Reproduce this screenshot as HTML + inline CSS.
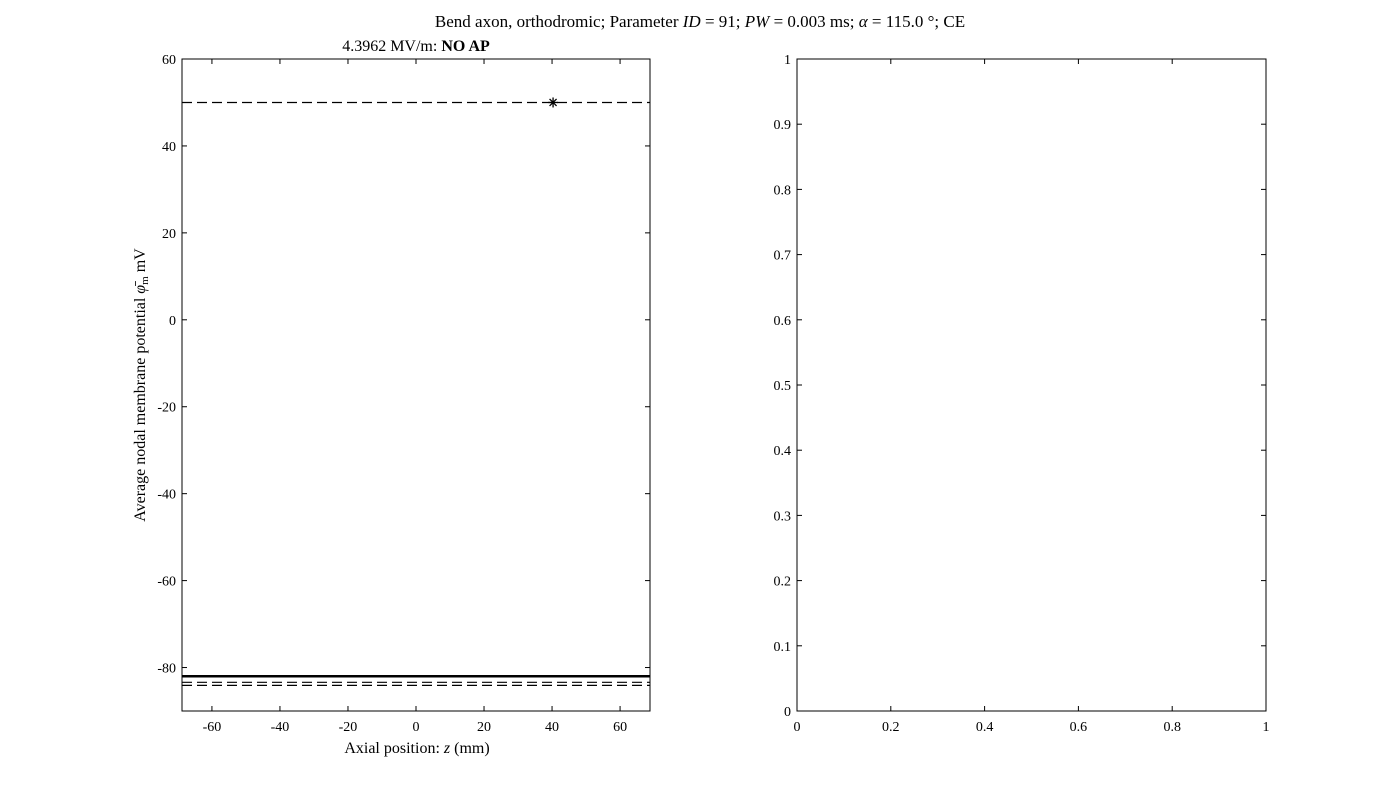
<!DOCTYPE html>
<html><head><meta charset="utf-8"><style>
body{margin:0;background:#fff;}
svg{display:block;font-family:"Liberation Serif",serif;}
</style></head><body>
<svg id="fig" width="1400" height="800">
<text x="700" y="27" font-size="17" text-anchor="middle">Bend axon, orthodromic; Parameter <tspan font-style="italic">ID</tspan> = 91; <tspan font-style="italic">PW</tspan> = 0.003 ms; <tspan font-style="italic">α</tspan> = 115.0 °; CE</text>
<text x="416" y="51" font-size="16" text-anchor="middle">4.3962 MV/m: <tspan font-weight="bold">NO AP</tspan></text>
<g id="left"></g>
<g id="right"></g>
<text x="417" y="753" font-size="16" text-anchor="middle">Axial position: <tspan font-style="italic">z</tspan> (mm)</text>
<text transform="translate(145,385) rotate(-90)" font-size="16" text-anchor="middle">Average nodal membrane potential <tspan font-style="italic">φ̄</tspan><tspan font-size="11" dy="3">m</tspan><tspan dy="-3"> mV</tspan></text>
</svg>
<script>
const xTicks=[-60,-40,-20,0,20,40,60];
const yTicks=[-80,-60,-40,-20,0,20,40,60];
const hLineValues=[50,-83.4,-84.1];
const solidValue=[-82];
const markerX=[40.3];
const markerY=[50];
const rTicks=[0,0.1,0.2,0.3,0.4,0.5,0.6,0.7,0.8,0.9,1];
const rxTicks=[0,0.2,0.4,0.6,0.8,1];
const NS='http://www.w3.org/2000/svg';
function mk(p,t,a){const e=document.createElementNS(NS,t);for(const k in a)e.setAttribute(k,a[k]);p.appendChild(e);return e;}
const L=document.getElementById('left');
const x0=182,x1=650,y0=59,y1=711,xmin=-68.8,xmax=68.8,ymin=-90,ymax=60;
const sx=v=>x0+(v-xmin)/(xmax-xmin)*(x1-x0);
const sy=v=>y1-(v-ymin)/(ymax-ymin)*(y1-y0);
hLineValues.forEach(v=>{const l=mk(L,'line',{x1:x0,x2:x1,y1:sy(v),y2:sy(v),stroke:'#000','stroke-width':1.2,'stroke-dasharray':'10,5'});

});
solidValue.forEach(v=>{const l=mk(L,'line',{x1:x0,x2:x1,y1:sy(v),y2:sy(v),stroke:'#000','stroke-width':2.5});

});
markerX.forEach((v,i)=>{const cx=sx(v),cy=sy(markerY[i]);
const g=mk(L,'g',{stroke:'#000','stroke-width':1.3});


mk(g,'line',{x1:cx-5,x2:cx+5,y1:cy,y2:cy});
mk(g,'line',{x1:cx,x2:cx,y1:cy-5,y2:cy+5});
mk(g,'line',{x1:cx-3.5,x2:cx+3.5,y1:cy-3.5,y2:cy+3.5});
mk(g,'line',{x1:cx-3.5,x2:cx+3.5,y1:cy+3.5,y2:cy-3.5});});
mk(L,'rect',{x:x0,y:y0,width:x1-x0,height:y1-y0,fill:'none',stroke:'#000','stroke-width':1});
xTicks.forEach(v=>{const x=sx(v);mk(L,'line',{x1:x,x2:x,y1:y1,y2:y1-5,stroke:'#000'});mk(L,'line',{x1:x,x2:x,y1:y0,y2:y0+5,stroke:'#000'});
const t=mk(L,'text',{x:x,y:y1+20,'font-size':14,'text-anchor':'middle'});t.textContent=v;

});
yTicks.forEach(v=>{const y=sy(v);mk(L,'line',{x1:x0,x2:x0+5,y1:y,y2:y,stroke:'#000'});mk(L,'line',{x1:x1,x2:x1-5,y1:y,y2:y,stroke:'#000'});
const t=mk(L,'text',{x:x0-6,y:y+5,'font-size':14,'text-anchor':'end'});t.textContent=v;

});
const R=document.getElementById('right');
const rx0=797,rx1=1266;
const rsx=v=>rx0+v*(rx1-rx0), rsy=v=>y1-v*(y1-y0);
mk(R,'rect',{x:rx0,y:y0,width:rx1-rx0,height:y1-y0,fill:'none',stroke:'#000','stroke-width':1});
rxTicks.forEach(v=>{const x=rsx(v);mk(R,'line',{x1:x,x2:x,y1:y1,y2:y1-5,stroke:'#000'});mk(R,'line',{x1:x,x2:x,y1:y0,y2:y0+5,stroke:'#000'});
const t=mk(R,'text',{x:x,y:y1+20,'font-size':14,'text-anchor':'middle'});t.textContent=v;

});
rTicks.forEach(v=>{const y=rsy(v);mk(R,'line',{x1:rx0,x2:rx0+5,y1:y,y2:y,stroke:'#000'});mk(R,'line',{x1:rx1,x2:rx1-5,y1:y,y2:y,stroke:'#000'});
const t=mk(R,'text',{x:rx0-6,y:y+5,'font-size':14,'text-anchor':'end'});t.textContent=v;

});
</script>
</body></html>
